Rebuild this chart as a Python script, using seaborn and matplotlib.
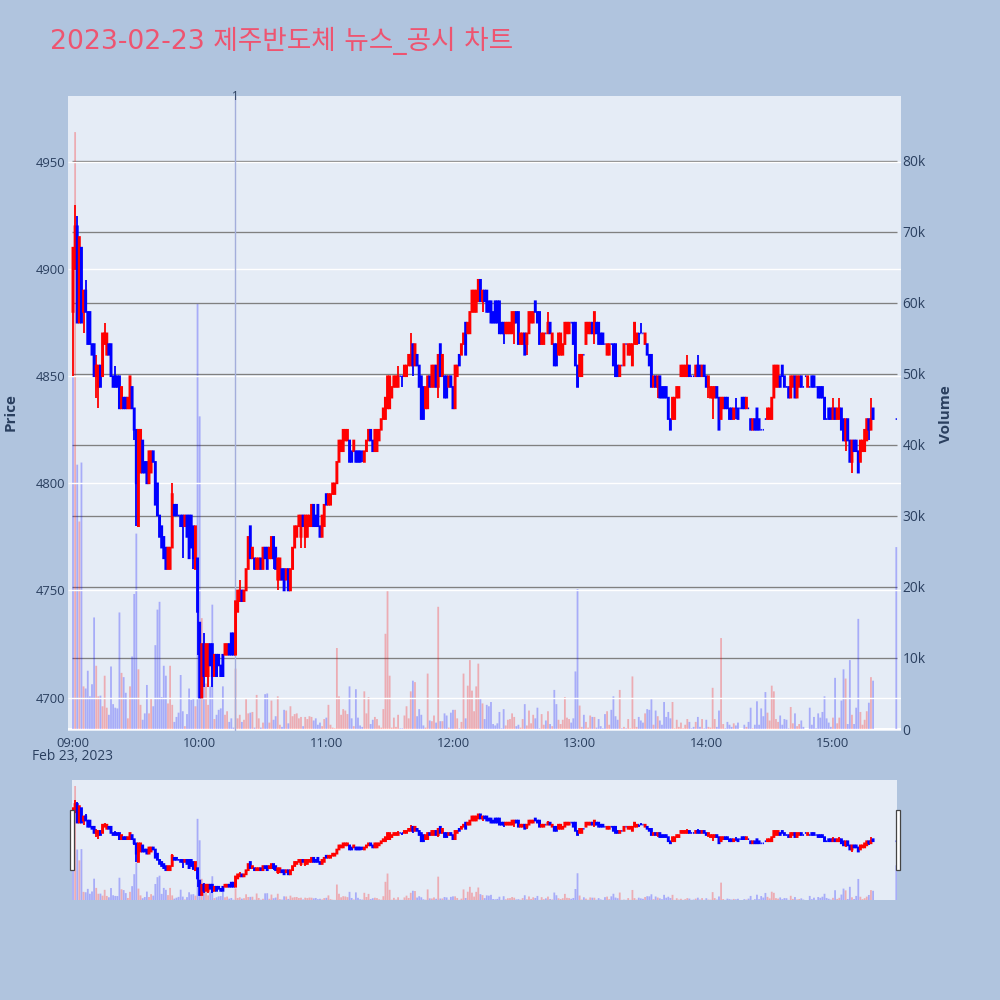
import matplotlib
matplotlib.use("Agg")
import matplotlib.pyplot as plt
from matplotlib.patches import Rectangle
import pandas as pd
import seaborn as sns

TITLE = "2023-02-23 제주반도체 뉴스_공시 차트"

# minutes after 09:00, one candle per minute plus the closing auction
minutes = [*range(380), 390]

opens = [
    4880,4900,4920,4875,4910,4880,4890,4880,4880,4865, 4865,4850,4845,4855,4850,4865,4860,4865,4865,4850,
    4850,4850,4850,4835,4840,4840,4835,4835,4845,4835, 4825,4780,4805,4820,4810,4810,4800,4805,4815,4810,
    4800,4785,4780,4775,4770,4760,4760,4770,4790,4790, 4785,4785,4785,4780,4785,4785,4785,4780,4760,4765,
    4735,4700,4725,4710,4710,4725,4725,4710,4720,4720, 4715,4720,4720,4720,4725,4730,4730,4720,4740,4745,
    4750,4745,4750,4760,4780,4765,4765,4760,4760,4765, 4760,4770,4770,4765,4765,4775,4770,4755,4755,4760,
    4760,4755,4760,4750,4760,4770,4775,4780,4775,4785, 4775,4775,4780,4780,4790,4785,4790,4780,4775,4780,
    4795,4790,4790,4795,4795,4800,4810,4815,4815,4820, 4820,4820,4815,4815,4815,4815,4815,4815,4810,4815,
    4820,4825,4820,4815,4815,4820,4825,4830,4830,4835, 4835,4840,4845,4845,4845,4850,4850,4850,4850,4855,
    4855,4865,4855,4860,4855,4850,4845,4835,4835,4850, 4845,4845,4855,4845,4865,4850,4850,4850,4845,4850,
    4845,4835,4850,4860,4860,4865,4875,4870,4870,4880, 4880,4880,4885,4895,4885,4890,4890,4885,4885,4880,
    4885,4885,4885,4875,4875,4870,4870,4870,4870,4875, 4880,4880,4865,4865,4870,4865,4870,4875,4875,4885,
    4880,4880,4865,4865,4870,4870,4875,4865,4865,4865, 4860,4860,4860,4865,4870,4870,4875,4875,4875,4855,
    4850,4850,4860,4865,4870,4870,4875,4870,4875,4875, 4870,4870,4865,4860,4860,4865,4865,4865,4855,4850,
    4855,4855,4865,4860,4860,4855,4865,4865,4870,4870, 4870,4865,4865,4860,4860,4845,4850,4845,4850,4845,
    4845,4845,4840,4830,4830,4830,4840,4840,4850,4850, 4850,4850,4855,4850,4850,4850,4855,4855,4850,4855,
    4850,4845,4840,4840,4840,4845,4840,4830,4835,4840, 4840,4835,4835,4830,4835,4835,4835,4840,4840,4835,
    4835,4830,4825,4830,4835,4830,4825,4825,4830,4830, 4830,4830,4840,4845,4845,4850,4855,4850,4845,4845,
    4840,4845,4850,4840,4845,4850,4845,4850,4845,4845, 4850,4850,4845,4845,4845,4845,4840,4830,4835,4835,
    4830,4835,4830,4830,4835,4830,4820,4830,4820,4810, 4820,4820,4815,4810,4815,4815,4820,4830,4825,4835,
    4830,
]
closes = [
    4910,4920,4875,4915,4875,4890,4880,4865,4865,4860, 4850,4855,4855,4845,4870,4870,4870,4860,4850,4845,
    4845,4845,4835,4845,4835,4835,4840,4850,4835,4825, 4800,4825,4825,4805,4805,4800,4815,4815,4810,4790,
    4785,4775,4770,4765,4760,4770,4770,4795,4785,4785, 4785,4780,4780,4785,4775,4765,4770,4765,4780,4740,
    4700,4725,4710,4725,4725,4715,4710,4720,4710,4715, 4710,4710,4725,4725,4720,4720,4720,4745,4750,4750,
    4745,4750,4760,4775,4765,4770,4760,4765,4765,4760, 4770,4765,4760,4770,4775,4765,4760,4765,4765,4755,
    4750,4760,4750,4760,4770,4780,4780,4785,4785,4780, 4785,4785,4785,4790,4780,4780,4780,4775,4785,4790,
    4790,4795,4795,4800,4800,4810,4820,4820,4825,4825, 4825,4810,4810,4820,4810,4810,4810,4815,4815,4820,
    4825,4820,4815,4825,4825,4825,4830,4835,4840,4850, 4850,4845,4850,4850,4850,4850,4850,4855,4855,4860,
    4860,4855,4865,4855,4845,4830,4830,4845,4850,4845, 4855,4855,4845,4860,4850,4860,4840,4840,4850,4845,
    4835,4855,4855,4855,4865,4870,4860,4875,4880,4890, 4890,4890,4895,4885,4890,4885,4880,4880,4875,4875,
    4875,4875,4870,4870,4870,4875,4875,4875,4880,4880, 4875,4865,4870,4870,4860,4870,4880,4880,4880,4880,
    4875,4865,4870,4870,4870,4875,4870,4870,4855,4855, 4870,4870,4865,4875,4875,4875,4875,4865,4855,4845,
    4860,4860,4860,4875,4875,4875,4870,4880,4870,4865, 4865,4865,4865,4865,4865,4865,4855,4850,4850,4855,
    4855,4865,4865,4865,4865,4865,4875,4870,4870,4870, 4870,4870,4860,4855,4845,4850,4845,4850,4840,4840,
    4840,4840,4830,4825,4840,4840,4845,4845,4855,4855, 4855,4855,4850,4850,4850,4855,4850,4850,4855,4850,
    4845,4850,4845,4845,4845,4840,4825,4840,4840,4835, 4835,4830,4830,4835,4835,4830,4835,4835,4835,4840,
    4835,4825,4830,4825,4825,4825,4825,4825,4830,4835, 4835,4840,4855,4855,4855,4845,4850,4845,4845,4840,
    4850,4850,4840,4850,4850,4845,4845,4850,4850,4845, 4845,4845,4845,4840,4840,4840,4830,4830,4830,4830,
    4835,4830,4835,4835,4825,4820,4830,4820,4810,4820, 4815,4815,4805,4820,4820,4825,4830,4825,4830,4830,
    4830,
]
highs = [
    4910,4930,4925,4915,4910,4890,4895,4880,4880,4865, 4865,4860,4855,4855,4870,4875,4870,4865,4865,4850,
    4855,4850,4850,4845,4840,4840,4840,4850,4845,4835, 4825,4825,4825,4820,4810,4810,4815,4815,4815,4810,
    4800,4785,4780,4775,4770,4770,4770,4800,4790,4790, 4785,4785,4785,4785,4785,4785,4785,4780,4780,4765,
    4735,4725,4730,4725,4725,4725,4725,4720,4720,4720, 4715,4720,4725,4725,4725,4730,4730,4745,4750,4755,
    4750,4750,4760,4775,4780,4770,4765,4765,4765,4765, 4770,4770,4770,4770,4775,4775,4770,4765,4765,4760,
    4760,4760,4760,4760,4770,4780,4780,4785,4785,4785, 4785,4785,4785,4790,4790,4785,4790,4780,4785,4790,
    4795,4795,4795,4800,4800,4810,4820,4820,4825,4825, 4825,4820,4815,4820,4815,4815,4815,4815,4815,4820,
    4825,4825,4820,4825,4825,4825,4830,4835,4840,4850, 4850,4845,4850,4850,4855,4850,4850,4855,4855,4860,
    4870,4865,4865,4860,4855,4850,4845,4845,4850,4850, 4855,4855,4855,4860,4865,4860,4850,4850,4850,4850,
    4845,4855,4855,4860,4865,4870,4875,4875,4880,4890, 4890,4890,4895,4895,4890,4890,4890,4885,4885,4880,
    4885,4885,4885,4875,4875,4875,4875,4875,4880,4880, 4880,4880,4870,4870,4870,4870,4880,4880,4880,4885,
    4880,4880,4870,4870,4870,4880,4875,4870,4865,4865, 4870,4870,4865,4875,4875,4875,4875,4875,4875,4855,
    4860,4860,4860,4875,4875,4875,4875,4880,4875,4875, 4870,4870,4865,4865,4865,4865,4865,4865,4855,4855,
    4855,4865,4865,4865,4865,4865,4875,4870,4870,4875, 4870,4870,4865,4860,4860,4850,4850,4850,4850,4845,
    4845,4845,4840,4830,4840,4840,4845,4845,4855,4855, 4855,4860,4855,4850,4850,4855,4860,4855,4855,4855,
    4850,4850,4845,4845,4845,4845,4840,4840,4840,4840, 4840,4835,4835,4835,4840,4835,4835,4840,4840,4840,
    4835,4830,4830,4830,4835,4830,4825,4825,4830,4835, 4835,4840,4855,4855,4855,4850,4855,4850,4845,4845,
    4850,4850,4850,4850,4850,4850,4845,4850,4850,4845, 4850,4850,4845,4845,4845,4845,4840,4830,4835,4835,
    4840,4835,4835,4840,4835,4830,4830,4830,4820,4820, 4820,4820,4815,4820,4820,4825,4830,4830,4840,4835,
    4830,
]
lows = [
    4850,4900,4875,4875,4875,4870,4880,4865,4865,4860, 4850,4840,4835,4845,4850,4865,4860,4860,4850,4845,
    4845,4845,4835,4835,4835,4835,4835,4835,4835,4820, 4780,4780,4805,4805,4805,4800,4800,4805,4810,4790,
    4785,4775,4770,4765,4760,4760,4760,4770,4785,4785, 4785,4780,4765,4780,4775,4765,4770,4760,4760,4720,
    4700,4700,4705,4710,4705,4715,4705,4710,4710,4715, 4710,4710,4720,4720,4720,4720,4720,4720,4740,4745,
    4745,4745,4750,4760,4765,4765,4760,4760,4760,4760, 4760,4765,4760,4765,4765,4760,4760,4750,4755,4755,
    4750,4755,4750,4750,4760,4770,4775,4780,4770,4780, 4770,4775,4780,4780,4780,4780,4780,4775,4775,4780,
    4790,4790,4790,4795,4795,4800,4810,4815,4815,4820, 4820,4810,4810,4815,4810,4810,4810,4810,4810,4815,
    4820,4820,4815,4815,4815,4820,4825,4830,4830,4835, 4835,4840,4845,4845,4845,4850,4845,4850,4850,4855,
    4855,4850,4855,4855,4845,4830,4830,4835,4835,4845, 4845,4845,4845,4840,4850,4850,4840,4840,4845,4845,
    4835,4835,4850,4855,4860,4865,4860,4870,4870,4880, 4880,4880,4885,4885,4880,4885,4880,4880,4875,4875,
    4875,4875,4870,4870,4865,4870,4870,4870,4870,4865, 4875,4865,4865,4865,4860,4860,4870,4875,4875,4880,
    4875,4865,4865,4865,4870,4870,4870,4865,4855,4855, 4860,4860,4860,4865,4870,4870,4875,4865,4855,4845,
    4850,4850,4860,4865,4870,4870,4870,4865,4870,4865, 4865,4865,4865,4860,4860,4865,4855,4850,4850,4850,
    4855,4855,4865,4860,4860,4855,4865,4865,4865,4870, 4870,4865,4860,4855,4845,4845,4845,4840,4840,4840,
    4840,4840,4830,4825,4830,4830,4840,4840,4850,4850, 4850,4850,4850,4850,4850,4850,4850,4850,4850,4850,
    4845,4840,4840,4830,4840,4840,4825,4830,4835,4835, 4835,4830,4830,4830,4830,4830,4835,4835,4835,4835,
    4835,4825,4825,4825,4825,4825,4825,4825,4830,4830, 4830,4830,4840,4845,4845,4845,4850,4845,4845,4840,
    4840,4845,4840,4840,4845,4845,4845,4850,4845,4845, 4845,4845,4845,4840,4840,4840,4830,4830,4830,4830,
    4830,4830,4830,4830,4825,4820,4815,4820,4810,4805, 4815,4815,4805,4810,4815,4815,4820,4820,4825,4830,
    4830,
]
# thousands of shares per minute
volumes = [
    49.5,84,37.2,29.2,37.5,6,5.7,8.2,4.6,6.3, 15.7,8.9,4.6,4.7,3.2,7.5,3,2,8.8,3.5,
    3,2.9,16.4,7.9,7.3,5.1,1.5,6,10.2,19, 27.5,8.4,3.4,1.3,2.2,6.2,2.2,4.3,3.2,11.8,
    16.8,17.9,4.5,8.9,7.5,3.6,8.9,3.4,1,1.7, 2.3,7.6,2.5,.4,2.1,5.7,4.1,4.3,3.2,59.8,
    44,15.6,10.6,6.4,3.4,6,17.5,1.4,2,2.7, 2.9,6,2,2.5,1,1.5,.2,8.5,1.5,2,
    1,1.3,4.2,2.2,2.3,2.4,.2,4.8,1.5,.2, .9,4.9,5,.9,4,1.3,1.8,4.6,.6,.3,
    2.7,2.6,.8,3.2,1.8,2.1,2.2,1.5,1.7,.4, 1.7,1.4,1.8,1.7,1.2,1.5,.6,.9,.4,1.4,
    1.6,3.4,.6,.2,.1,11.4,4.6,2,2.8,2.6, 2.1,6,1.5,.4,5.6,1.6,.5,.3,5.3,2.2,
    4.5,.7,1.3,1.7,1.4,.5,.2,2.8,13.4,19.5, 7.5,.2,1.6,.3,2,.1,.1,1.9,3.2,1.5,
    5.3,6.8,6.6,1.8,2.8,2,.5,.2,7.8,1.2, 1.1,1.9,.9,17.2,1.1,1.1,2.2,1.9,.2,2.3,
    2.7,2.7,1.5,.1,1,7.8,1.5,6.1,9.7,5.4, 2.5,6,9.2,4.3,3.6,1.4,3.4,3.2,3.8,.7,
    .5,.8,2.4,.1,2.8,.5,1.3,1.4,2.2,1.7, .4,.6,.2,1.4,3.5,.5,2.6,.8,2,1.5,
    3,.1,2.1,.6,1.2,2.5,.7,.4,5.5,3.5, 1.3,.7,1.3,4.5,1.6,1.4,.9,1.5,8.1,19.7,
    3.3,.3,2,1,.2,1.9,1.7,1.7,.2,1.4, .4,.1,2.1,2.5,.6,2.7,4.6,1.8,1.3,5.5,
    .1,.3,.1,1.4,.1,7.4,1.4,.3,1.7,1.2, .9,2.2,2.8,2.7,4.2,.6,2.6,1.8,1.2,.6,
    3.8,1.7,2.4,1.5,3.8,.1,1.3,.3,.9,.1, .6,1.4,1,.1,.3,1,1.7,.3,1.4,.1,
    1.3,.3,.2,5.8,1.4,.3,2.6,12.8,.7,.1, 1,.6,.3,.8,.5,.9,0,0,.6,.3,
    1,3,.1,.6,3.9,.6,2.9,1.8,5.2,2.3, 1.2,6.1,5.3,1.4,1,1.9,.6,1.4,1.3,.1,
    3.1,.8,2.2,.4,.7,1.2,.3,0,0,3, .6,1.7,.1,2.2,1.6,2.4,4.6,1.5,.9,.3,
    1.6,7.2,.8,1.6,4,8.4,7.1,.7,9.7,2, .7,3,15.5,2.4,.6,1.3,2.5,3.7,7.3,6.8,
    25.6,
]
price_ticks = [4700, 4750, 4800, 4850, 4900, 4950]
volume_ticks = [0, 10, 20, 30, 40, 50, 60, 70, 80]
time_ticks = [0, 60, 120, 180, 240, 300, 360]
time_labels = ["09:00", "10:00", "11:00", "12:00", "13:00", "14:00", "15:00"]
event_minutes = [77]
event_labels = ["1"]

BG = "#b0c4de"
PANEL = "#e5ecf6"
INK = "#2a3f5f"
UP = "#ff0000"
DOWN = "#0000ff"
PX_PER_MIN = 2.111

sns.set_theme(style="white")
plt.rcParams["font.family"] = ["Open Sans", "Noto Sans CJK KR", "DejaVu Sans"]

df = pd.DataFrame({"minute": minutes, "open": opens, "high": highs, "low": lows,
                   "close": closes, "volume": volumes})
df["dir"] = ["up" if c > o else "down" for o, c in zip(df["open"], df["close"])]
df.loc[0, "dir"] = "down"
palette = {"up": UP, "down": DOWN}


def box(left, top, right, bottom):
    # pixel box of the 1000x1000 picture to figure coordinates
    return [left / 1000, 1 - bottom / 1000, (right - left) / 1000, (bottom - top) / 1000]


def x_range(left, right):
    return (left - 73) / PX_PER_MIN, (right - 73) / PX_PER_MIN


def draw_panel(ax_vol, xlim, ylim_price, ylim_vol):
    ax_vol.set_facecolor(PANEL)
    sns.barplot(data=df, x="minute", y="volume", hue="dir", palette=palette, native_scale=True,
                dodge=False, width=0.85, saturation=1, alpha=0.27, linewidth=0, errorbar=None,
                legend=False, ax=ax_vol)
    for bar in ax_vol.patches:
        bar.set_snap(False)
    ax_price = ax_vol.twinx()
    ax_price.patch.set_visible(False)
    body_colors = [UP if c > o else DOWN for o, c in zip(df["open"], df["close"])]
    ax_price.vlines(df["minute"], df["low"], df["high"], colors=body_colors, linewidth=1.3, zorder=3)
    bodies = ax_price.bar(df["minute"], df["close"] - df["open"], bottom=df["open"], width=0.6,
                          color=body_colors, edgecolor=body_colors, linewidth=1.2, zorder=3)
    for body in bodies:
        body.set_snap(False)
    for ax in (ax_vol, ax_price):
        ax.set_xlim(*xlim)
        sns.despine(ax=ax, left=True, right=True, top=True, bottom=True)
    ax_vol.set_ylim(*ylim_vol)
    ax_price.set_ylim(*ylim_price)
    return ax_price


fig = plt.figure(figsize=(10, 10), dpi=100, facecolor=BG)

# main chart
ax_vol = fig.add_axes(box(68, 96, 901, 731))
main_xlim = x_range(68, 901)
ax_price = draw_panel(ax_vol, main_xlim, (4684.4, 4980.8), (-0.28, 89.08))

ax_vol.hlines(volume_ticks[1:], *x_range(72, 897), colors="#808080", linewidth=0.95, zorder=0.5)
ax_vol.hlines([0], *main_xlim, colors="white", linewidth=1.4, zorder=0.5)
ax_vol.yaxis.tick_right()
ax_vol.yaxis.set_label_position("right")
ax_vol.set_yticks(volume_ticks, ["0"] + [f"{v}k" for v in volume_ticks[1:]])
ax_vol.tick_params(axis="y", length=0, pad=1, labelsize=9.9, labelcolor=INK, labelright=True, labelleft=False)
ax_vol.set_xticks(time_ticks, time_labels)
ax_vol.tick_params(axis="x", length=0, pad=4, labelsize=9.4, labelcolor=INK)
ax_vol.set_xlabel("")
ax_vol.set_ylabel("")
fig.text(946.5 / 1000, 1 - 414 / 1000, "Volume", rotation=90, ha="center", va="center",
         fontsize=11, fontweight="bold", color=INK)

ax_price.yaxis.tick_left()
ax_price.set_yticks(price_ticks)
ax_price.hlines(price_ticks, *main_xlim, colors="white", linewidth=1.0, zorder=0.5)
ax_price.tick_params(axis="y", length=0, pad=2, labelsize=9.4, labelcolor=INK, labelleft=True, labelright=False)
fig.text(10.5 / 1000, 1 - 412.5 / 1000, "Price", rotation=90, ha="center", va="center",
         fontsize=11, fontweight="bold", color=INK)

for minute, label in zip(event_minutes, event_labels):
    ax_price.axvline(minute - 0.2, color="#a3aedb", linewidth=1.0, zorder=1)
    ax_price.text(minute - 0.2, 0.9985, label, transform=ax_price.get_xaxis_transform(), ha="center",
                  va="center", fontsize=8.3, color=INK)

fig.text(73 / 1000, 1 - 757 / 1000, "Feb 23, 2023", ha="center", va="center", fontsize=9.9, color=INK)
fig.text(50 / 1000, 1 - 40.5 / 1000, TITLE, ha="left", va="center", fontsize=19.2, color="#ee5470",
         family=["DejaVu Sans", "Noto Sans CJK KR"])

# range slider
ax_nav = fig.add_axes(box(72, 780, 897, 900))
nav_price = draw_panel(ax_nav, x_range(72, 897), (4688, 4978), (0, 88.4))
for ax in (ax_nav, nav_price):
    ax.set_xticks([])
    ax.set_yticks([])
    ax.set_xlabel("")
    ax.set_ylabel("")

for left in (69.5, 895.5):
    fig.add_artist(Rectangle((left / 1000, 1 - 870 / 1000), 4 / 1000, 60 / 1000, transform=fig.transFigure,
                             facecolor="white", edgecolor="#444444", linewidth=0.9, zorder=10))

fig.savefig("out.png", dpi=100, facecolor=BG)
